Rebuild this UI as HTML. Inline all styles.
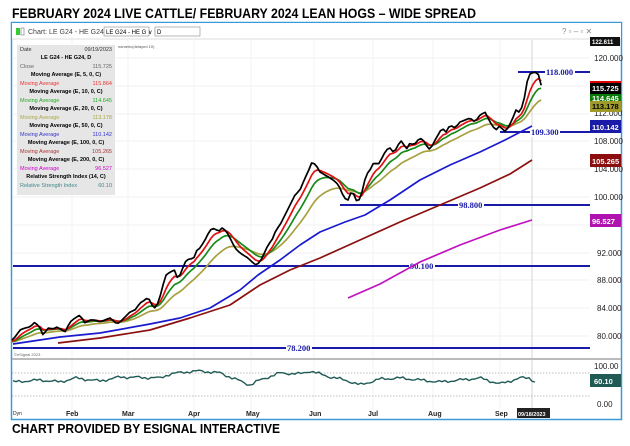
<!DOCTYPE html>
<html><head><meta charset="utf-8"><style>
html,body{margin:0;padding:0;background:#fff;width:630px;height:446px;overflow:hidden}
svg{display:block;font-family:"Liberation Sans",sans-serif}
</style></head><body>
<svg id="s" width="630" height="446" viewBox="0 0 630 446" xmlns="http://www.w3.org/2000/svg">
<text x="12" y="18" font-size="14" font-weight="bold" textLength="464" lengthAdjust="spacingAndGlyphs">FEBRUARY 2024 LIVE CATTLE/ FEBRUARY 2024 LEAN HOGS –    WIDE SPREAD</text>
<rect x="11.5" y="22.5" width="610" height="397" fill="#fff" stroke="#3a9ad9" stroke-width="1.5"/>
<rect x="12" y="23" width="609" height="16" fill="#fff"/>
<line x1="12" y1="39" x2="621" y2="39" stroke="#ddd"/>
<rect x="16" y="28" width="4" height="7" fill="#3c3"/><rect x="21" y="28" width="3" height="7" fill="none" stroke="#888" stroke-width="0.7"/>
<text x="28" y="34" font-size="7" fill="#444">Chart: LE G24 - HE G24, D</text>
<rect x="104" y="27" width="45" height="9" fill="#fff" stroke="#888" stroke-width="0.6"/><text x="106" y="34" font-size="6">LE G24 - HE G ∨ ☰</text>
<rect x="155" y="27" width="45" height="9" fill="#fff" stroke="#888" stroke-width="0.6"/><text x="157" y="34" font-size="6">D</text>
<text x="562" y="34" font-size="8" fill="#888">?  ▫  –  ▫  ✕</text>
<g stroke="#eee" stroke-width="0.7">
<line x1="72" y1="40" x2="72" y2="410"/><line x1="128" y1="40" x2="128" y2="410"/><line x1="194" y1="40" x2="194" y2="410"/><line x1="251" y1="40" x2="251" y2="410"/><line x1="314" y1="40" x2="314" y2="410"/><line x1="373" y1="40" x2="373" y2="410"/><line x1="433" y1="40" x2="433" y2="410"/><line x1="500" y1="40" x2="500" y2="410"/>
<line x1="12" y1="86" x2="590" y2="86"/><line x1="12" y1="114" x2="590" y2="114"/><line x1="12" y1="141" x2="590" y2="141"/><line x1="12" y1="169" x2="590" y2="169"/><line x1="12" y1="197" x2="590" y2="197"/><line x1="12" y1="225" x2="590" y2="225"/><line x1="12" y1="253" x2="590" y2="253"/><line x1="12" y1="280" x2="590" y2="280"/><line x1="12" y1="308" x2="590" y2="308"/><line x1="12" y1="336" x2="590" y2="336"/><line x1="12" y1="58" x2="590" y2="58"/>
</g>
<line x1="532" y1="40" x2="532" y2="410" stroke="#ccc" stroke-width="0.8"/>
<line x1="12" y1="359" x2="621" y2="359" stroke="#bbb" stroke-width="2"/>
<line x1="12" y1="373" x2="590" y2="373" stroke="#aaa" stroke-dasharray="1.5,1.5" stroke-width="0.7"/>
<line x1="12" y1="396" x2="590" y2="396" stroke="#aaa" stroke-dasharray="1.5,1.5" stroke-width="0.7"/>
<text x="14" y="356" font-size="4" fill="#666">©eSignal 2023</text>
<g stroke="#1a1aa8" stroke-width="2">
<line x1="518" y1="72" x2="590" y2="72"/><line x1="500" y1="132" x2="590" y2="132"/><line x1="340" y1="205" x2="590" y2="205"/><line x1="13" y1="266" x2="590" y2="266"/><line x1="13" y1="348" x2="590" y2="348"/>
</g>
<g font-family="Liberation Serif,serif" font-size="8.5" fill="#1a1aa8" font-weight="bold">
<rect x="545" y="67" width="30" height="10" fill="#fff"/><text x="546" y="75">118.000</text>
<rect x="530" y="127" width="30" height="10" fill="#fff"/><text x="531" y="135">109.300</text>
<rect x="458" y="200" width="26" height="10" fill="#fff"/><text x="459" y="208">98.800</text>
<rect x="409" y="261" width="26" height="10" fill="#fff"/><text x="410" y="269">90.100</text>
<rect x="286" y="343" width="26" height="10" fill="#fff"/><text x="287" y="351">78.200</text>
</g>
<g id="lines" fill="none" stroke-width="1.7" stroke-linejoin="round"></g>
<g font-size="8" fill="#222">
<text x="594" y="61">120.000</text><text x="594" y="116">112.000</text><text x="594" y="144">108.000</text><text x="594" y="172">104.000</text><text x="594" y="200">100.000</text><text x="597" y="256">92.000</text><text x="597" y="283">88.000</text><text x="597" y="311">84.000</text><text x="597" y="339">80.000</text>
<text x="594" y="369">100.00</text><text x="597" y="407">0.00</text>
</g>
<g font-size="7.5" font-weight="bold">
<rect x="590" y="37" width="30" height="9" fill="#111"/><text x="592" y="44" fill="#fff" font-size="6">122.611</text>
<rect x="590" y="81" width="31" height="13" fill="#000"/><rect x="590" y="81" width="31" height="2" fill="#d00"/><text x="592" y="91" fill="#fff">115.725</text>
<rect x="590" y="94" width="31" height="8" fill="#0a7a0a"/><text x="592" y="101" fill="#fff">114.645</text>
<rect x="590" y="101" width="31" height="11" fill="#a09a2a"/><text x="592" y="109" fill="#000">113.178</text>
<rect x="590" y="120" width="31" height="13" fill="#1a1aa8"/><text x="592" y="130" fill="#fff">110.142</text>
<rect x="590" y="154" width="31" height="13" fill="#8b0d0d"/><text x="592" y="164" fill="#fff">105.265</text>
<rect x="590" y="214" width="31" height="13" fill="#b012b0"/><text x="592" y="224" fill="#fff">96.527</text>
<rect x="590" y="374" width="31" height="13" fill="#1f5a55"/><text x="594" y="384" fill="#fff">60.10</text>
</g>
<g font-size="7" font-weight="bold" fill="#222">
<text x="66" y="416">Feb</text><text x="122" y="416">Mar</text><text x="188" y="416">Apr</text><text x="246" y="416">May</text><text x="309" y="416">Jun</text><text x="368" y="416">Jul</text><text x="428" y="416">Aug</text><text x="495" y="416">Sep</text>
<text x="13" y="415" font-size="5" font-weight="normal">Dyn</text>
<rect x="517" y="408" width="33" height="10" fill="#222"/><text x="518" y="416" fill="#fff" font-size="5.5">09/18/2023</text>
</g>
<rect x="17" y="45" width="98" height="150" fill="#e6e6e6"/>
<g font-size="5.5">
<text x="20" y="51" fill="#333">Date</text><text x="112" y="51" text-anchor="end" fill="#333">09/19/2023</text>
<text x="66" y="59" text-anchor="middle" font-weight="bold">LE G24 - HE G24, D</text>
<text x="20" y="68" fill="#666">Close</text><text x="112" y="68" text-anchor="end" fill="#666">115.725</text>
<text x="66" y="76" text-anchor="middle" font-weight="bold">Moving Average (E, 5, 0, C)</text>
<text x="20" y="85" fill="#e33">Moving Average</text><text x="112" y="85" text-anchor="end" fill="#e33">115.864</text>
<text x="66" y="93" text-anchor="middle" font-weight="bold">Moving Average (E, 10, 0, C)</text>
<text x="20" y="102" fill="#2a2">Moving Average</text><text x="112" y="102" text-anchor="end" fill="#2a2">114.645</text>
<text x="66" y="110" text-anchor="middle" font-weight="bold">Moving Average (E, 20, 0, C)</text>
<text x="20" y="119" fill="#aa4">Moving Average</text><text x="112" y="119" text-anchor="end" fill="#aa4">113.178</text>
<text x="66" y="127" text-anchor="middle" font-weight="bold">Moving Average (E, 50, 0, C)</text>
<text x="20" y="136" fill="#33c">Moving Average</text><text x="112" y="136" text-anchor="end" fill="#33c">110.142</text>
<text x="66" y="144" text-anchor="middle" font-weight="bold">Moving Average (E, 100, 0, C)</text>
<text x="20" y="153" fill="#a33">Moving Average</text><text x="112" y="153" text-anchor="end" fill="#a33">105.265</text>
<text x="66" y="161" text-anchor="middle" font-weight="bold">Moving Average (E, 200, 0, C)</text>
<text x="20" y="170" fill="#c0c">Moving Average</text><text x="112" y="170" text-anchor="end" fill="#c0c">96.527</text>
<text x="66" y="178" text-anchor="middle" font-weight="bold">Relative Strength Index (14, C)</text>
<text x="20" y="187" fill="#488">Relative Strength Index</text><text x="112" y="187" text-anchor="end" fill="#488">60.10</text>
</g>
<text x="118" y="48" font-size="4" fill="#555">nameric(delayed 10)</text>
<text x="12" y="433" font-size="13" font-weight="bold" textLength="268" lengthAdjust="spacingAndGlyphs">CHART PROVIDED BY ESIGNAL INTERACTIVE</text>
</svg>
<script>
var C=[[12,340],[15,337],[20,330],[25,328],[30,327],[35,322],[40,328],[43,335],[48,328],[53,329],[57,327],[62,330],[65,332],[70,322],[75,318],[80,315],[85,323],[90,320],[95,320],[100,322],[105,320],[110,318],[117,324],[120,322],[125,317],[130,312],[135,310],[140,303],[145,300],[148,297],[152,305],[155,308],[158,303],[162,290],[165,276],[170,272],[175,270],[178,280],[182,270],[185,262],[190,258],[193,260],[197,250],[200,248],[205,240],[210,230],[215,228],[218,232],[222,228],[225,230],[228,234],[235,248],[240,253],[248,258],[252,262],[256,265],[260,262],[262,258],[268,245],[272,240],[276,230],[280,225],[285,215],[290,205],[295,195],[300,190],[305,178],[308,172],[312,162],[316,165],[320,172],[325,175],[330,178],[336,182],[340,188],[344,198],[348,200],[352,190],[356,200],[358,203],[362,192],[366,175],[370,170],[374,162],[378,165],[382,158],[386,150],[390,148],[394,153],[398,145],[402,140],[406,150],[410,143],[414,145],[418,140],[422,138],[426,145],[430,150],[434,142],[438,135],[442,128],[446,132],[450,125],[455,128],[460,122],[465,120],[470,118],[475,122],[480,115],[485,112],[490,122],[494,128],[497,130],[500,125],[504,132],[508,128],[512,120],[516,110],[520,113],[524,100],[527,82],[530,74],[534,72],[538,73],[541,85],[543,88]];
function interp(P,x){for(var i=1;i<P.length;i++){if(x<=P[i][0]){var a=P[i-1],b=P[i],t=(x-a[0])/(b[0]-a[0]);return a[1]+t*(b[1]-a[1]);}}return P[P.length-1][1];}
var R=[];for(var x=12;x<=543;x+=2.8)R.push([x,interp(C,x)]);
function ema(n){var k=2/(n+1),v=R[0][1]+2,o=[];R.forEach(function(p){v=v+k*(p[1]-v);o.push([p[0],v]);});return o;}
function pts(P){return P.map(function(p){return p[0].toFixed(1)+","+p[1].toFixed(1)}).join(" ");}
var g=document.getElementById("lines"),ns="http://www.w3.org/2000/svg";
function add(P,c,w){var e=document.createElementNS(ns,"polyline");e.setAttribute("points",pts(P));e.setAttribute("stroke",c);if(w)e.setAttribute("stroke-width",w);g.appendChild(e);}
add([[13,344],[60,337],[100,333],[150,324],[180,318],[210,308],[240,290],[258,275],[280,260],[300,245],[320,232],[345,222],[365,215],[390,200],[420,180],[450,165],[480,152],[505,140],[532,126]],"#1a1ad0");
add([[58,343],[100,338],[150,330],[190,318],[230,305],[260,285],[290,270],[320,258],[360,240],[400,222],[440,205],[480,188],[510,174],[532,160]],"#8b1010");
add([[348,298],[380,284],[420,262],[460,245],[500,230],[532,220]],"#c010c0");
add(ema(20),"#a8a040");add(ema(10),"#1a8a1a");add(ema(5),"#e01010");add(R,"#000");
var RS=[[13,382],[40,380],[60,382],[75,378],[100,381],[120,377],[160,378],[170,374],[185,372],[200,371],[220,373],[250,385],[260,380],[280,373],[300,374],[310,371],[330,377],[345,380],[360,385],[380,379],[400,378],[420,380],[440,382],[460,380],[480,378],[500,384],[520,378],[530,378],[535,382]];
var Q=[];for(var x=13;x<=535;x+=3)Q.push([x,interp(RS,x)+0.8*Math.sin(x*0.9)+0.9*Math.sin(x*0.31)]);
add(Q,"#1f5a55",1.4);
</script>
</body></html>
